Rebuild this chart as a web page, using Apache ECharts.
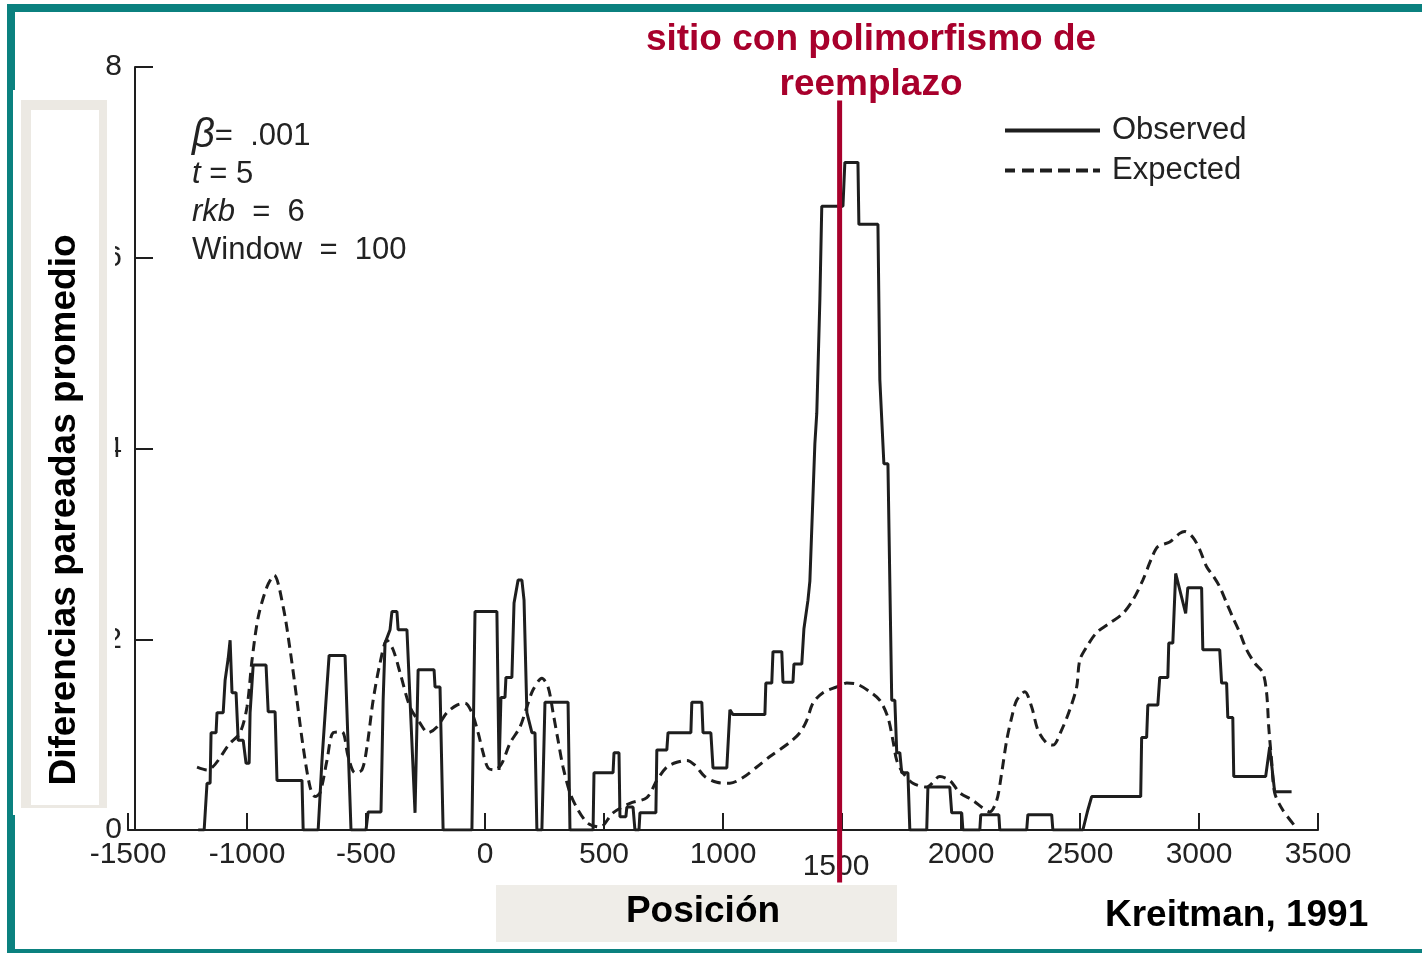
<!DOCTYPE html>
<html>
<head>
<meta charset="utf-8">
<title>Kreitman 1991</title>
<script src="https://cdn.jsdelivr.net/npm/echarts@6/dist/echarts.min.js"></script>
<style>
html, body { margin: 0; padding: 0; background: #fff; }
#chart { width: 1422px; height: 953px; }
</style>
</head>
<body>
<div id="chart"></div>
<script>
// observed pairwise differences (sliding window, step-like trace)
var obsPos = [-1205,-1180,-1168,-1155,-1151,-1130,-1126,-1100,-1092,-1079,
	-1071,-1063,-1046,-1037,-1016,-1004,-991,-987,-974,-920,
	-911,-882,-874,-769,-764,-701,-685,-668,-655,-588,
	-563,-500,-491,-437,-428,-420,-399,-391,-370,-365,
	-328,-294,-281,-214,-210,-189,-176,-55,-42,50,
	59,67,84,88,113,122,139,155,164,176,
	197,210,218,239,252,349,357,454,458,538,
	542,563,567,592,596,622,630,647,651,718,
	722,764,769,865,869,911,916,949,958,1016,
	1029,1042,1176,1180,1205,1210,1247,1252,1294,1298,
	1331,1340,1357,1365,1386,1394,1407,1415,1504,1512,
	1567,1571,1651,1659,1676,1693,1709,1722,1730,1743,
	1751,1777,1785,1856,1861,1953,1961,2003,2008,2079,
	2083,2159,2163,2276,2281,2381,2386,2512,2533,2549,
	2755,2759,2780,2785,2827,2835,2869,2873,2890,2902,
	2944,2953,3011,3016,3087,3095,3116,3121,3142,3146,
	3280,3297,3318,3389];
var obsVal = [0,0,0.49,0.49,1.02,1.02,1.23,1.23,1.57,1.80,
	1.99,1.44,1.44,0.94,0.94,0.70,0.70,1.23,1.73,1.73,
	1.24,1.24,0.52,0.52,0,0,0.73,1.36,1.83,1.83,
	0,0,0.19,0.19,1.36,1.96,2.10,2.29,2.29,2.10,
	2.10,0.18,1.68,1.68,1.50,1.50,0,0,2.29,2.29,
	0.63,1.39,1.39,1.60,1.60,2.38,2.62,2.62,2.41,1.23,
	1.02,1.02,0,0,1.34,1.34,0,0,0.60,0.60,
	0.81,0.81,0.14,0.14,0.24,0.24,0,0,0.18,0.18,
	0.84,0.84,1.02,1.02,1.34,1.34,1.02,1.02,0.65,0.65,
	1.26,1.21,1.21,1.54,1.54,1.87,1.87,1.55,1.55,1.74,
	1.74,2.11,2.41,2.61,4.05,4.37,5.56,6.54,6.54,7.00,
	7.00,6.35,6.35,4.72,3.84,3.84,1.36,1.36,0.81,0.81,
	0.60,0.60,0,0,0.45,0.45,0.18,0.18,0,0,
	0.16,0.16,0,0,0.16,0.16,0,0,0.21,0.35,
	0.35,0.97,0.97,1.31,1.31,1.60,1.60,1.96,1.96,2.69,
	2.27,2.54,2.54,1.89,1.89,1.54,1.54,1.18,1.18,0.56,
	0.56,0.87,0.40,0.40];

// expected under neutrality (dashed)
var expPos = [-1210,-1168,-1071,-1029,-1000,-979,-953,-916,-886,-848,
	-819,-790,-764,-735,-714,-693,-664,-638,-601,-575,
	-546,-517,-496,-470,-441,-412,-386,-357,-315,-273,
	-239,-202,-160,-118,-84,-55,-29,-8,13,42,
	71,105,147,176,202,239,265,286,307,328,
	357,391,433,483,538,609,680,722,764,806,
	848,882,924,974,1029,1084,1142,1197,1281,1323,
	1352,1378,1420,1478,1520,1562,1617,1659,1693,1714,
	1730,1756,1798,1856,1911,1953,1995,2050,2092,2121,
	2150,2171,2192,2213,2234,2268,2297,2323,2360,2386,
	2423,2457,2486,2499,2528,2570,2625,2680,2722,2764,
	2801,2827,2877,2919,2940,2974,3003,3032,3058,3087,
	3116,3142,3171,3200,3234,3268,3284,3293,3305,3318,
	3352,3410];
var expVal = [0.66,0.63,0.91,1.02,1.29,1.78,2.23,2.55,2.67,2.34,
	1.89,1.36,0.87,0.45,0.35,0.39,0.73,1.02,1.03,0.77,
	0.60,0.63,0.87,1.36,1.75,1.99,1.89,1.65,1.29,1.12,
	1.02,1.08,1.23,1.31,1.33,1.23,1.02,0.81,0.65,0.63,
	0.70,0.91,1.08,1.29,1.47,1.59,1.50,1.23,0.94,0.66,
	0.39,0.21,0.07,0.03,0.18,0.28,0.34,0.52,0.66,0.71,
	0.73,0.68,0.56,0.50,0.49,0.55,0.66,0.77,0.92,1.02,
	1.15,1.33,1.44,1.50,1.54,1.53,1.45,1.36,1.18,0.94,
	0.73,0.60,0.49,0.45,0.56,0.52,0.39,0.31,0.23,0.19,
	0.31,0.60,0.94,1.18,1.36,1.45,1.29,1.05,0.91,0.89,
	1.05,1.26,1.50,1.78,1.92,2.07,2.17,2.27,2.41,2.62,
	2.85,2.97,3.02,3.11,3.13,3.07,2.94,2.76,2.67,2.55,
	2.38,2.23,2.07,1.89,1.75,1.65,1.44,1.08,0.73,0.39,
	0.21,0.02];

var seriesNames = ['Observed', 'Expected'];
// sitio con polimorfismo de reemplazo: position and vertical extent of the marker
var sitePos = [1490, 1490];
var siteVal = [7.65, -0.55];

var ink = '#1e1e1e';
var teal = '#0b817f';
var crimson = '#a8002c';
var font = 'Liberation Sans';
var bold = 'bold 37px "Liberation Sans"';

// legend glyphs: a plain bar and a row of dashes
var solidIcon = 'path://M0,0H95V4H0Z';
var dashIcon = 'path://M0,0H10V4H0Z M17,0H29V4H17Z M35,0H47V4H35Z M53,0H65V4H53Z M71,0H83V4H71Z M88,0H95V4H88Z';

function zip(xs, ys) {
	return xs.map(function(x, i) { return [x, ys[i]]; });
}

var chart = echarts.init(document.getElementById('chart'));

chart.setOption({
	animation: false,
	backgroundColor: '#fff',
	grid: {
		left: 128,
		right: 104,
		top: 67,
		bottom: 123,
		containLabel: false,
		outerBoundsMode: 'none'
	},
	legend: {
		orient: 'vertical',
		left: 1005,
		top: 115,
		padding: 0,
		itemWidth: 95,
		itemHeight: 4,
		itemGap: 9,
		data: [
			{ name: seriesNames[0], icon: solidIcon },
			{ name: seriesNames[1], icon: dashIcon }
		],
		textStyle: {
			fontFamily: font,
			fontSize: 31,
			color: '#222',
			padding: [0, 0, 0, 7]
		}
	},
	xAxis: {
		type: 'value',
		min: -1500,
		max: 3500,
		interval: 500,
		splitLine: { show: false },
		axisLine: { lineStyle: { color: ink, width: 2 } },
		axisTick: { show: true, inside: true, length: 17, lineStyle: { color: ink, width: 2 } },
		axisLabel: {
			margin: 10,
			fontFamily: font,
			fontSize: 30,
			color: '#222',
			formatter: function(v) {
				return v === 1500 ? '{low|1500}' : String(v);
			},
			rich: {
				low: { fontFamily: font, fontSize: 30, color: '#222', padding: [12, 12, 0, 0] }
			}
		}
	},
	yAxis: {
		type: 'value',
		min: 0,
		max: 8,
		interval: 2,
		offset: -7,
		splitLine: { show: false },
		axisLine: { show: true, onZero: false, lineStyle: { color: ink, width: 2 } },
		axisTick: { show: true, inside: true, length: 18, lineStyle: { color: ink, width: 2 } },
		axisLabel: {
			margin: 13,
			fontFamily: font,
			fontSize: 30,
			color: '#222'
		}
	},
	series: [
		{
			name: seriesNames[0],
			type: 'line',
			data: zip(obsPos, obsVal),
			symbol: 'none',
			z: 3,
			lineStyle: { color: ink, width: 3 },
			itemStyle: { color: ink }
		},
		{
			name: seriesNames[1],
			type: 'line',
			data: zip(expPos, expVal),
			symbol: 'none',
			smooth: 0.3,
			z: 2,
			lineStyle: { color: ink, width: 3, type: [10, 6] },
			itemStyle: { color: ink }
		},
		{
			name: 'site',
			type: 'line',
			data: zip(sitePos, siteVal),
			symbol: 'none',
			clip: false,
			silent: true,
			z: 4,
			lineStyle: { color: crimson, width: 5 },
			itemStyle: { color: crimson }
		}
	],
	graphic: [
		// slide frame
		{ type: 'rect', z: 100, shape: { x: 7, y: 4, width: 1415, height: 8 }, style: { fill: teal } },
		{ type: 'rect', z: 100, shape: { x: 7, y: 4, width: 8, height: 949 }, style: { fill: teal } },
		{ type: 'rect', z: 100, shape: { x: 7, y: 949, width: 1415, height: 4 }, style: { fill: teal } },
		// y title panel pasted over the scan
		{ type: 'rect', z: 101, shape: { x: 13, y: 90, width: 102, height: 725 }, style: { fill: '#fff' } },
		{ type: 'rect', z: 102, shape: { x: 21, y: 100, width: 86, height: 708 }, style: { fill: '#ece9e3' } },
		{ type: 'rect', z: 103, shape: { x: 31, y: 110, width: 68, height: 695 }, style: { fill: '#fff' } },
		{
			type: 'text', z: 104, x: 65, y: 510, rotation: Math.PI / 2,
			style: {
				text: 'Diferencias pareadas promedio',
				font: bold,
				fill: '#000',
				align: 'center',
				verticalAlign: 'middle'
			}
		},
		// x title panel
		{ type: 'rect', z: 101, shape: { x: 496, y: 885, width: 401, height: 57 }, style: { fill: '#efede8' } },
		{
			type: 'text', z: 104, x: 703, y: 912,
			style: { text: 'Posición', font: bold, fill: '#000', align: 'center', verticalAlign: 'middle' }
		},
		{
			type: 'text', z: 104, x: 1105, y: 916,
			style: { text: 'Kreitman, 1991', font: bold, fill: '#000', align: 'left', verticalAlign: 'middle' }
		},
		// annotation for the replacement site
		{
			type: 'text', z: 104, x: 871, y: 62,
			style: {
				text: 'sitio con polimorfismo de\nreemplazo',
				font: bold,
				lineHeight: 45,
				fill: crimson,
				align: 'center',
				verticalAlign: 'middle'
			}
		},
		// model parameters
		{
			type: 'text', z: 104, x: 192, y: 117,
			style: {
				text: '{g|β}=  .001\n{i|t} = 5\n{i|rkb}  =  6\nWindow  =  100',
				font: '31px "Liberation Sans"',
				fill: '#222',
				lineHeight: 38,
				rich: {
					g: { font: 'italic 40px "Liberation Sans"', fill: '#222', lineHeight: 38 },
					i: { font: 'italic 31px "Liberation Sans"', fill: '#222', lineHeight: 38 }
				}
			}
		}
	]
});
</script>
</body>
</html>
